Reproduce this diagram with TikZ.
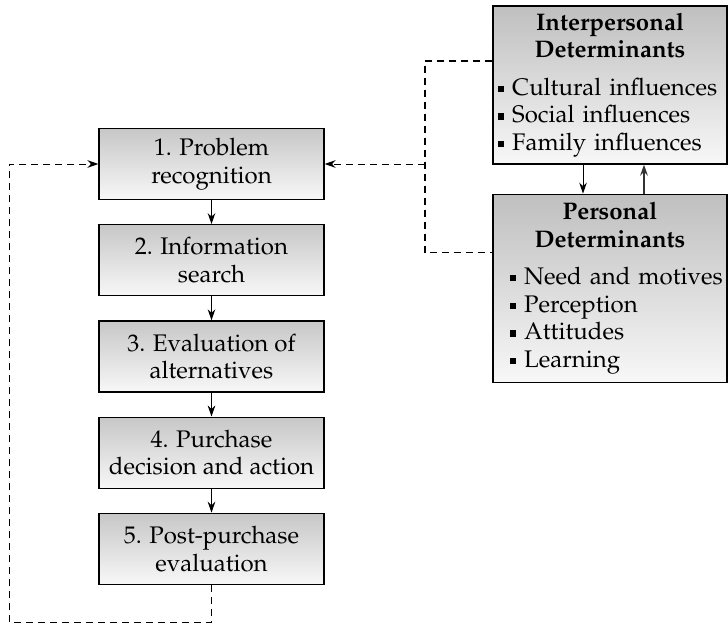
\documentclass[tikz,border=0pt]{standalone}
\usepackage[T1]{fontenc}
\usepackage{mathpazo}
\usepackage{tikz}
\usetikzlibrary{arrows.meta, positioning}

\newcommand{\sqitem}[1]{\mbox{\raisebox{0.3ex}{\rule{0.26em}{0.26em}}\ #1}}
\newcommand{\dethead}[1]{\makebox[112pt][c]{\textbf{#1}}}

\begin{document}
\begin{tikzpicture}[
  x=0.5pt, y=-0.5pt,
  node distance=12pt,
  font=\fontsize{12}{13.8}\selectfont,
  stage/.style={rectangle, draw, line width=0.6pt, minimum width=112.5pt, minimum height=35.5pt,
    align=center, top color=black!22, bottom color=black!3},
  detbox/.style={rectangle, draw, line width=0.6pt, minimum width=117pt, inner xsep=2.5pt,
    inner ysep=1pt, text width=112pt, align=left, top color=black!25, bottom color=black!3,
    execute at begin node={\hbadness=10000\hfuzz=20pt}},
  arrow/.style={-{Stealth[length=5.5pt, width=3.8pt]}, line width=0.5pt},
  fb/.style={line width=0.65pt, dash pattern=on 3.5pt off 2.5pt}
]
\useasboundingbox (0,0) rectangle (728,626);

% decision process, top to bottom
\node[stage] (recog) at (211.5,164) {1. Problem\\recognition};
\node[stage, below=of recog] (search) {2. Information\\search};
\node[stage, below=of search] (evalalt) {3. Evaluation of\\alternatives};
\node[stage, below=of evalalt] (decide) {4. Purchase\\decision and action};
\node[stage, below=of decide] (review) {5. Post-purchase\\evaluation};

\draw[arrow] (recog) -- (search);
\draw[arrow] (search) -- (evalalt);
\draw[arrow] (evalalt) -- (decide);
\draw[arrow] (decide) -- (review);

% determinants
\node[detbox, minimum height=79pt] (inter) at (610,85)
  {\dethead{Interpersonal}\\\dethead{Determinants}\\[5pt]
   \sqitem{Cultural influences}\\\sqitem{Social influences}\\\sqitem{Family influences}};
\node[detbox, minimum height=94pt, below=14.5pt of inter] (pers)
  {\dethead{Personal}\\\dethead{Determinants}\\[5pt]
   \hspace*{6pt}\sqitem{Need and motives}\\\hspace*{6pt}\sqitem{Perception}\\
   \hspace*{6pt}\sqitem{Attitudes}\\\hspace*{6pt}\sqitem{Learning}};

\draw[arrow] ([xshift=-13.5pt]inter.south) -- ([xshift=-13.5pt]pers.north);
\draw[arrow, line width=0.9pt, black!80] ([xshift=17pt]pers.north) -- ([xshift=17pt]inter.south);

% influence of the determinants on the first stage
\coordinate (join) at (425,164);
\draw[fb] ([yshift=12pt]inter.west) -| (join) |- ([yshift=18pt]pers.west);
\draw[fb, arrow] (join) -- (recog.east);

% feedback loop
\coordinate (loop) at (9,622);
\draw[fb, arrow] (review.south) |- (loop) |- (recog.west);

\end{tikzpicture}
\end{document}
